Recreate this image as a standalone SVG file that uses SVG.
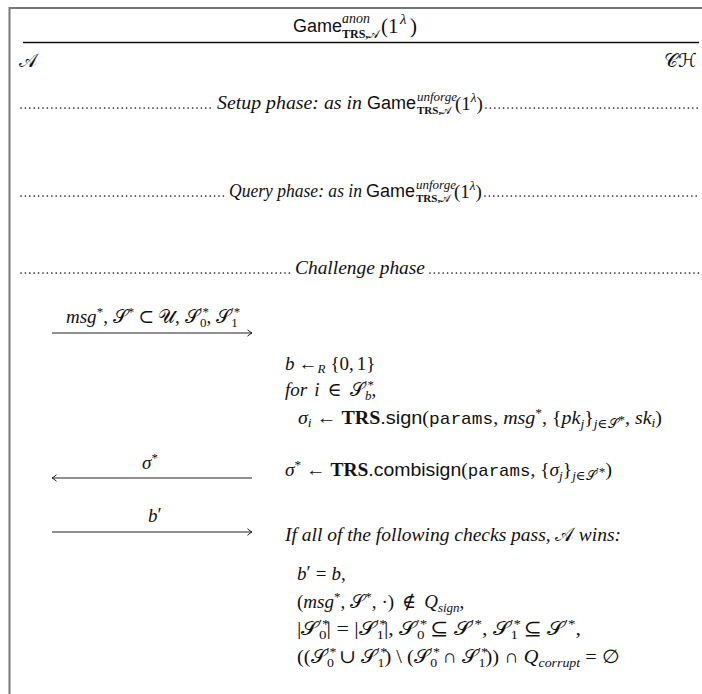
<svg xmlns="http://www.w3.org/2000/svg" width="702" height="694" viewBox="0 0 702 694">
<style>
svg{font-size:19px}
text{font-family:"Liberation Serif","DejaVu Serif",serif;fill:#111}
.i{font-style:italic}
.sf{font-family:"Liberation Sans",sans-serif;font-style:normal}
.tt{font-family:"Liberation Mono",monospace;font-size:17px;font-style:normal}
.b{font-weight:bold;font-style:normal}
.s{font-size:13px}
.cal{font-family:"DejaVu Serif","DejaVu Sans","Noto Sans",serif;font-style:normal;font-weight:normal}
.dots{stroke:#222;stroke-width:1.7;stroke-linecap:round;stroke-dasharray:0 4.4;fill:none}
.frame{stroke:#777;stroke-width:2;fill:none}
.rule{stroke:#111;stroke-width:1.3;fill:none}
.arr{stroke:#222;stroke-width:1.2;fill:none;marker-end:url(#h)}
</style>
<defs>
<marker id="h" viewBox="-6 -4 8 8" markerWidth="8" markerHeight="8" refX="0" refY="0" orient="auto" markerUnits="userSpaceOnUse">
<path d="M-4.5,-3.2 Q-1.5,-0.6 0,0 Q-1.5,0.6 -4.5,3.2" fill="none" stroke="#222" stroke-width="1"/>
</marker>
</defs>

<g id="frame">
<path class="frame" d="M9.5,694 V8 H702"/>
<line class="rule" x1="23" y1="42.5" x2="699" y2="42.5"/>
</g>

<g id="title">
<text x="293" y="32" font-size="18"><tspan class="sf">Game</tspan></text>
<text x="342" y="23" class="i" font-size="14">anon</text>
<text x="342" y="38" class="b" font-size="12">TRS,<tspan class="cal">𝒜</tspan></text>
<text x="381" y="33" font-size="21">(1</text>
<text x="400" y="24" class="i" font-size="15">λ</text>
<text x="410" y="33" font-size="21">)</text>
</g>

<g id="party-A"><text x="19" y="67" class="cal">𝒜</text></g>
<g id="party-CH"><text x="664" y="67" class="cal">𝒞ℋ</text></g>

<g id="setup-phase">
<line class="dots" x1="21" y1="108" x2="214" y2="108"/>
<text x="217" y="109" class="i" textLength="145" lengthAdjust="spacingAndGlyphs">Setup phase: as in</text>
<text x="367" y="109" font-size="18"><tspan class="sf">Game</tspan></text>
<text x="417" y="101" class="i s">unforge</text>
<text x="417" y="114" class="b" font-size="11">TRS,<tspan class="cal">𝒜</tspan></text>
<text x="455" y="110">(1<tspan class="i s" dy="-8">λ</tspan><tspan dy="8">)</tspan></text>
<line class="dots" x1="486" y1="108" x2="700" y2="108"/>
</g>

<g id="query-phase">
<line class="dots" x1="21" y1="196" x2="226" y2="196"/>
<text x="229" y="197" class="i" textLength="133" lengthAdjust="spacingAndGlyphs">Query phase: as in</text>
<text x="366" y="197" font-size="18"><tspan class="sf">Game</tspan></text>
<text x="416" y="189" class="i s">unforge</text>
<text x="416" y="202" class="b" font-size="11">TRS,<tspan class="cal">𝒜</tspan></text>
<text x="454" y="198">(1<tspan class="i s" dy="-8">λ</tspan><tspan dy="8">)</tspan></text>
<line class="dots" x1="485" y1="196" x2="700" y2="196"/>
</g>

<g id="challenge-phase">
<line class="dots" x1="21" y1="273" x2="292" y2="273"/>
<text x="295" y="274" class="i" textLength="130" lengthAdjust="spacingAndGlyphs">Challenge phase</text>
<line class="dots" x1="430" y1="273" x2="700" y2="273"/>
</g>

<g id="connectors">
<line class="arr" x1="52" y1="333" x2="252" y2="333"/>
<line class="arr" x1="252" y1="478" x2="52" y2="478"/>
<line class="arr" x1="52" y1="532" x2="252" y2="532"/>
</g>

<g id="msg1-label">
<text x="66" y="323"><tspan class="i">msg</tspan><tspan class="s" dy="-7">*</tspan><tspan dy="7">, </tspan><tspan class="cal">𝒮</tspan><tspan class="s" dy="-7">*</tspan><tspan dy="7" dx="4">⊂</tspan><tspan class="cal" dx="4">𝒰</tspan><tspan>, </tspan><tspan class="cal">𝒮</tspan><tspan class="s" dy="-7">′*</tspan><tspan class="s" dx="-9" dy="11">0</tspan><tspan dy="-4">, </tspan><tspan class="cal">𝒮</tspan><tspan class="s" dy="-7">′*</tspan><tspan class="s" dx="-9" dy="11">1</tspan></text>
</g>
<g id="msg2-label"><text x="142" y="469"><tspan class="i">σ</tspan><tspan class="s" dy="-7">*</tspan></text></g>
<g id="msg3-label"><text x="148" y="522"><tspan class="i">b</tspan><tspan dy="-1">′</tspan></text></g>

<g id="challenger-steps">
<text x="285" y="370"><tspan class="i">b</tspan><tspan dx="4">←</tspan><tspan class="i s" dy="3">R</tspan><tspan dy="-3" dx="5">{0,</tspan><tspan dx="3">1}</tspan></text>
<text x="285" y="396"><tspan class="i">for</tspan><tspan class="i" dx="7">i</tspan><tspan dx="8">∈</tspan><tspan class="cal" dx="8">𝒮</tspan><tspan class="s" dy="-7">′*</tspan><tspan class="i s" dx="-9" dy="11">b</tspan><tspan dy="-4">,</tspan></text>
<text x="298" y="424" textLength="364" lengthAdjust="spacingAndGlyphs"><tspan class="i">σ</tspan><tspan class="i s" dy="3">i</tspan><tspan dy="-3"> ← </tspan><tspan class="b">TRS</tspan><tspan class="sf">.sign</tspan>(<tspan class="tt">params</tspan>, <tspan class="i">msg</tspan><tspan class="s" dy="-7">*</tspan><tspan dy="7">, {</tspan><tspan class="i">pk</tspan><tspan class="i s" dy="4">j</tspan><tspan dy="-4">}</tspan><tspan class="s" dy="4"><tspan class="i">j</tspan>∈<tspan class="cal">𝒮</tspan></tspan><tspan class="s" font-size="10" dy="-4">*</tspan><tspan dy="0">, </tspan><tspan class="i">sk</tspan><tspan class="i s" dy="3">i</tspan><tspan dy="-3">)</tspan></text>
<text x="285" y="476" textLength="327" lengthAdjust="spacingAndGlyphs"><tspan class="i">σ</tspan><tspan class="s" dy="-7">*</tspan><tspan dy="7"> ← </tspan><tspan class="b">TRS</tspan><tspan class="sf">.combisign</tspan>(<tspan class="tt">params</tspan>, {<tspan class="i">σ</tspan><tspan class="i s" dy="4">j</tspan><tspan dy="-4">}</tspan><tspan class="s" dy="4"><tspan class="i">j</tspan>∈<tspan class="cal">𝒮</tspan></tspan><tspan class="s" font-size="10" dy="-4">′*</tspan><tspan dy="0">)</tspan></text>
</g>

<g id="win-conditions">
<text x="285" y="541" class="i" textLength="336" lengthAdjust="spacingAndGlyphs">If all of the following checks pass, <tspan class="cal">𝒜</tspan> wins:</text>
<text x="297" y="580"><tspan class="i">b</tspan><tspan dy="-1">′</tspan><tspan dy="1" dx="5">=</tspan><tspan class="i" dx="5">b</tspan>,</text>
<text x="297" y="608">(<tspan class="i">msg</tspan><tspan class="s" dy="-7">*</tspan><tspan dy="7">,</tspan><tspan class="cal" dx="5">𝒮</tspan><tspan class="s" dy="-7">*</tspan><tspan dy="7">,</tspan><tspan dx="5">·)</tspan><tspan dx="8">∉</tspan><tspan class="i" dx="8">Q</tspan><tspan class="i s" dy="4">sign</tspan><tspan dy="-4">,</tspan></text>
<text x="297" y="635" textLength="284" lengthAdjust="spacingAndGlyphs">|<tspan class="cal">𝒮</tspan><tspan class="s" dy="-7">′*</tspan><tspan class="s" dx="-9" dy="11">0</tspan><tspan dy="-4">| = |</tspan><tspan class="cal">𝒮</tspan><tspan class="s" dy="-7">′*</tspan><tspan class="s" dx="-9" dy="11">1</tspan><tspan dy="-4">|, </tspan><tspan class="cal">𝒮</tspan><tspan class="s" dy="-7">′*</tspan><tspan class="s" dx="-9" dy="11">0</tspan><tspan dy="-4"> ⊆ </tspan><tspan class="cal">𝒮</tspan><tspan class="s" dy="-7">′*</tspan><tspan dy="7">, </tspan><tspan class="cal">𝒮</tspan><tspan class="s" dy="-7">′*</tspan><tspan class="s" dx="-9" dy="11">1</tspan><tspan dy="-4"> ⊆ </tspan><tspan class="cal">𝒮</tspan><tspan class="s" dy="-7">′*</tspan><tspan dy="7">,</tspan></text>
<text x="297" y="663" textLength="323" lengthAdjust="spacingAndGlyphs">((<tspan class="cal">𝒮</tspan><tspan class="s" dy="-7">′*</tspan><tspan class="s" dx="-9" dy="11">0</tspan><tspan dy="-4"> ∪ </tspan><tspan class="cal">𝒮</tspan><tspan class="s" dy="-7">′*</tspan><tspan class="s" dx="-9" dy="11">1</tspan><tspan dy="-4">) \ (</tspan><tspan class="cal">𝒮</tspan><tspan class="s" dy="-7">′*</tspan><tspan class="s" dx="-9" dy="11">0</tspan><tspan dy="-4"> ∩ </tspan><tspan class="cal">𝒮</tspan><tspan class="s" dy="-7">′*</tspan><tspan class="s" dx="-9" dy="11">1</tspan><tspan dy="-4">)) ∩ </tspan><tspan class="i">Q</tspan><tspan class="i s" dy="4">corrupt</tspan><tspan dy="-4"> = ∅</tspan></text>
</g>
</svg>
